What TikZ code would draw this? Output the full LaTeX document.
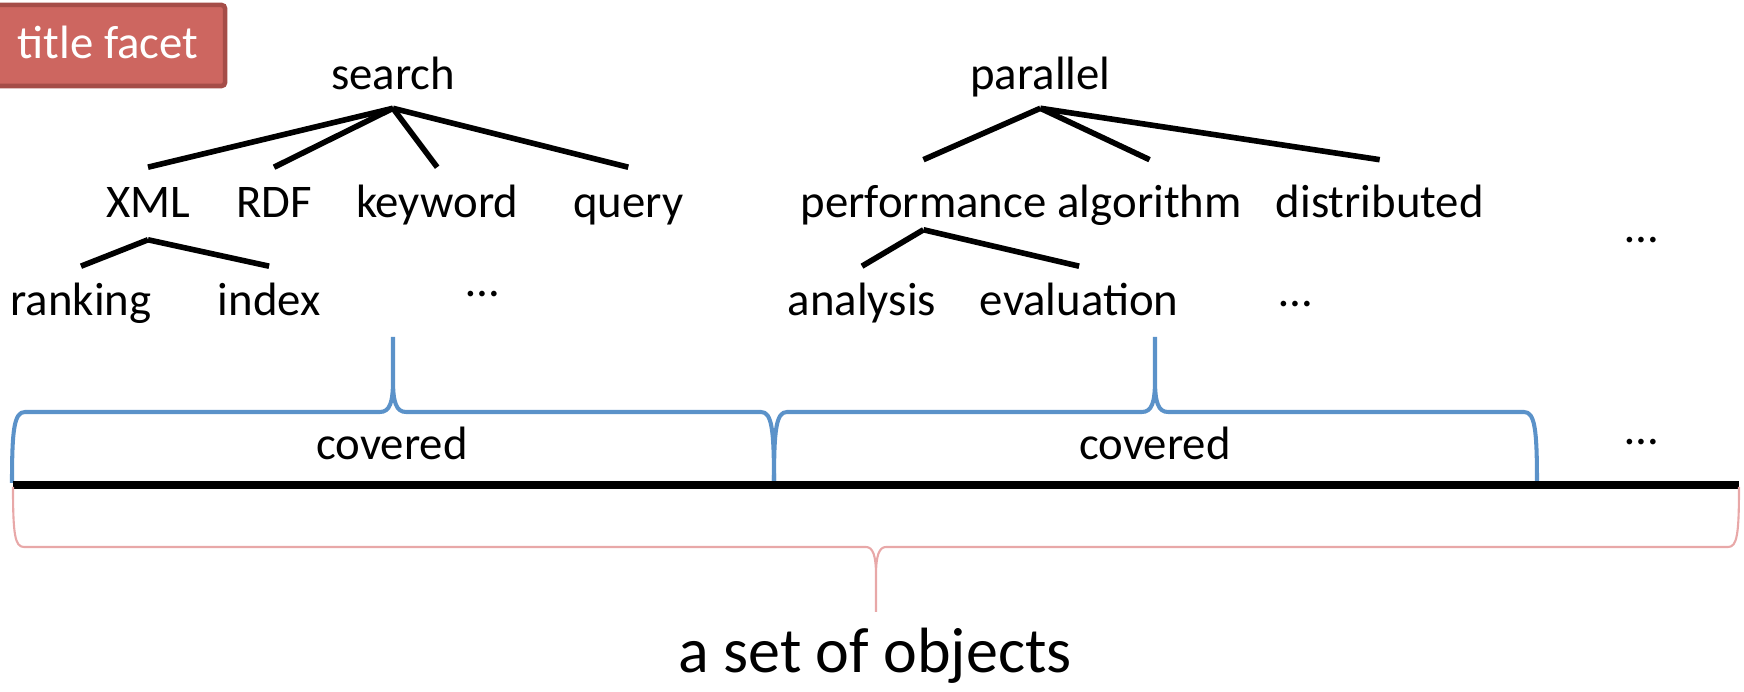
\documentclass[tikz,border=0pt]{standalone}
\usepackage{fontspec}
\setmainfont{Carlito}
\usetikzlibrary{positioning}
\definecolor{braceblue}{RGB}{91,146,201}
\definecolor{bracepink}{RGB}{232,168,168}
\definecolor{facetred}{RGB}{205,102,96}
\definecolor{facetrim}{RGB}{165,77,72}
\tikzset {
    word/.style={inner sep=0.09cm, text height=0.75em, text depth=0.25em,
        font=\fontsize{13.3pt}{16pt}\selectfont},
    bigword/.style={word, font=\fontsize{18.2pt}{22pt}\selectfont},
    facet/.style={fill=facetred, draw=facetrim, line width=1.3pt, rounded corners=1pt,
        text=white, inner sep=0, minimum width=2.34cm, minimum height=0.81cm,
        text height=0.8em, text depth=0.05em, font=\fontsize{13.3pt}{16pt}\selectfont},
    branch/.style={line width=1.6pt},
    bluebrace/.style={draw=braceblue, line width=1.15pt, line join=round},
    pinkbrace/.style={draw=bracepink, line width=0.6pt}
}

\begin{document}
\begin{tikzpicture}[x=0.01cm, y=-0.01cm]
    \useasboundingbox (0,0) rectangle (1744,692);

    \node[facet] (title) at (108,45.5) {title facet};

    % first level
    \node[word] (search) at (393,81) {search};
    \node[word, right of=search, node distance=6.47cm] (parallel) {parallel};

    % second level
    \node[word] (xml) at (148,209) {XML};
    \node[word, right of=xml, node distance=1.26cm] (rdf) {RDF};
    \node[word, right of=rdf, node distance=1.63cm] (keyword) {keyword};
    \node[word, right of=keyword, node distance=1.91cm] (query) {query};
    \node[word, right of=query, node distance=2.95cm] (performance) {performance};
    \node[word, right of=performance, node distance=2.26cm] (algorithm) {algorithm};
    \node[word, right of=algorithm, node distance=2.30cm] (distributed) {distributed};

    % third level
    \node[word] (ranking) at (81,307) {ranking};
    \node[word, right of=ranking, node distance=1.88cm] (index) {index};
    \node[word] (analysis) at (862,307) {analysis};
    \node[word, right of=analysis, node distance=2.17cm] (evaluation) {evaluation};

    \node[word] (moreA) at (483,288) {…};
    \node[word] (moreB) at (1296,298) {…};
    \node[word] (moreC) at (1642,234) {…};
    \node[word] (moreD) at (1642,436) {…};

    \foreach \c in {xml, rdf, keyword, query}
        \draw[branch] (search.south) -- ([yshift=1.45mm]\c.north);
    \foreach \c in {performance, algorithm, distributed}
        \draw[branch] (parallel.south) -- ([yshift=2.2mm]\c.north);
    \foreach \c in {ranking, index}
        \draw[branch] ([yshift=-0.35mm]xml.south) -- ([yshift=1.35mm]\c.north);
    \foreach \c in {analysis, evaluation}
        \draw[branch] ([yshift=0.65mm]performance.south) -- ([yshift=1.35mm]\c.north);

    % objects line and braces
    \coordinate (lineL) at (13,485);
    \coordinate (lineR) at (1739,485);

    \foreach \l/\m/\r in {12/393/774, 774/1155/1537}
        \draw[bluebrace] (\l,483) .. controls (\l,430) and (\l+2,412) .. (\l+13,412)
            -- (\m-13,412) .. controls (\m-3,412) and (\m,402) .. (\m,380) -- (\m,337)
            (\m,380) .. controls (\m,402) and (\m+3,412) .. (\m+13,412)
            -- (\r-13,412) .. controls (\r-2,412) and (\r,430) .. (\r,483);

    \draw[line width=2pt] (lineL) -- (lineR);

    \draw[pinkbrace] (13,487) .. controls (13,535) and (15,547) .. (24,547)
        -- (866,547) .. controls (873,547) and (876,556) .. (876,575) -- (876,612)
        (876,575) .. controls (876,556) and (879,547) .. (886,547)
        -- (1728,547) .. controls (1737,547) and (1739,535) .. (1739,487);

    \node[word] (coverA) at (392,451) {covered};
    \node[word] (coverB) at (1155,451) {covered};
    \node[bigword] (objects) at (875,664) {a set of objects};
\end{tikzpicture}
\end{document}
